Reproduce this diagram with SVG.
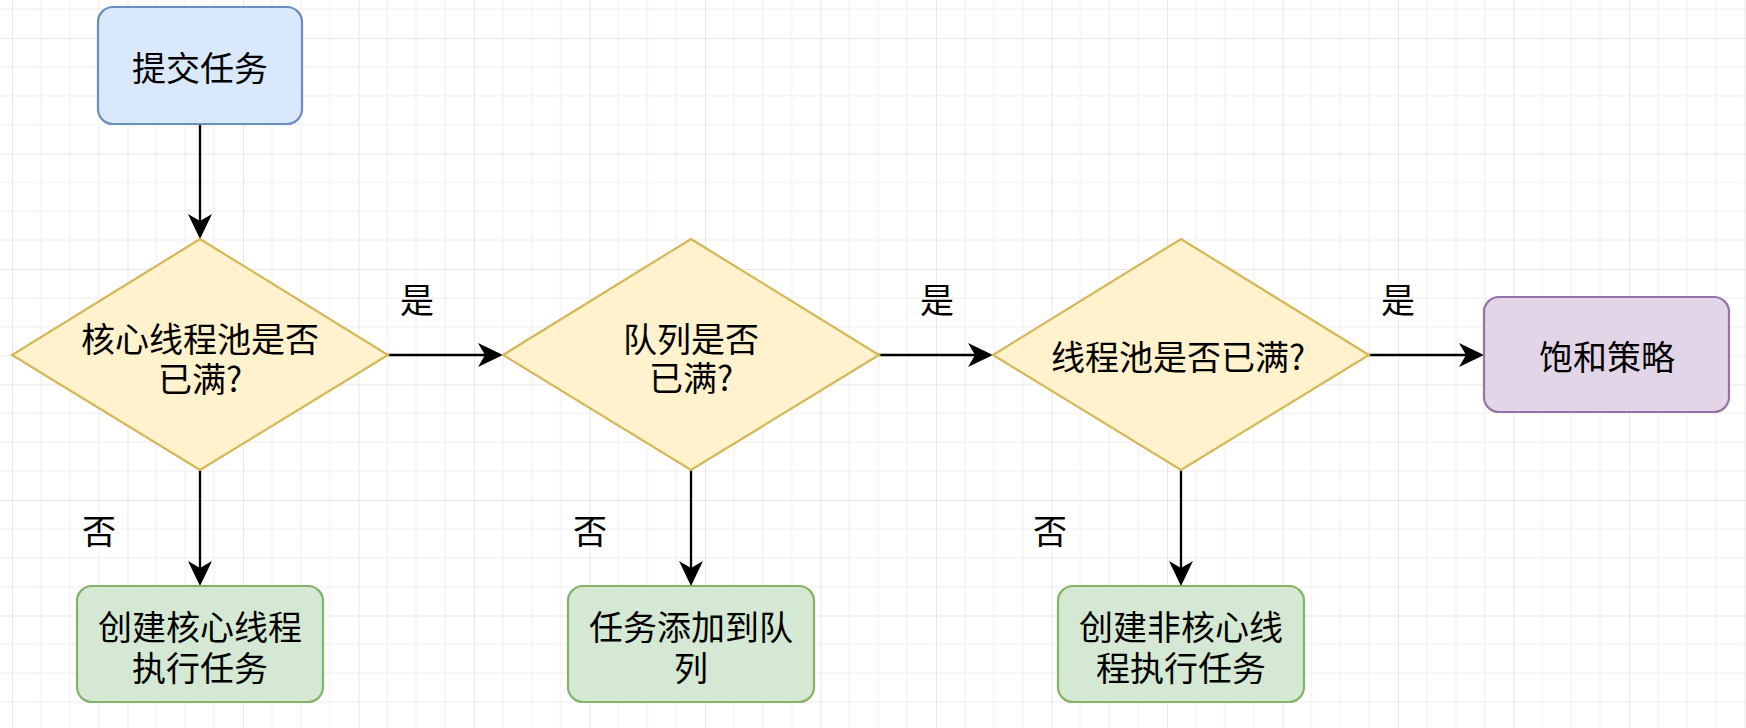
<svg xmlns="http://www.w3.org/2000/svg" width="1746" height="728" viewBox="0 0 1746 728">
<defs>
<pattern id="grid" patternUnits="userSpaceOnUse" x="12" y="38" width="115.5" height="115.5">
<path d="M28.875 0V115.5M57.75 0V115.5M86.625 0V115.5M0 28.875H115.5M0 57.75H115.5M0 86.625H115.5" stroke="#eeeeee" stroke-width="1" fill="none"/>
<path d="M0 0V115.5M0 0H115.5" stroke="#dfdfdf" stroke-width="1.5" fill="none"/>
</pattern>
<marker id="arr" markerUnits="userSpaceOnUse" viewBox="-26 -13 28 26" markerWidth="28" markerHeight="26" refX="-10" refY="0" orient="auto">
<path d="M0 0L-25 -12L-18 0L-25 12Z" fill="#000"/>
</marker>
<style>
text{font-family:"Noto Sans CJK SC","Noto Sans",sans-serif;font-size:34px;fill:#000;text-anchor:middle}
.blue{fill:#dae8fc;stroke:#6c8ebf;stroke-width:2.2}
.dia{fill:#fff2cc;stroke:#d6b656;stroke-width:2.2}
.green{fill:#d5e8d4;stroke:#82b366;stroke-width:2.2}
.purple{fill:#e1d5e7;stroke:#9673a6;stroke-width:2.2}
.edge{stroke:#000;stroke-width:2.3;fill:none;marker-end:url(#arr)}
</style>
</defs>
<rect width="1746" height="728" fill="#ffffff"/>
<rect width="1746" height="728" fill="url(#grid)"/>

<g id="connectors">
<path class="edge" d="M200 124V229"/>
<path class="edge" d="M388 355H493"/>
<path class="edge" d="M879 355H983"/>
<path class="edge" d="M1369 355H1474"/>
<path class="edge" d="M200 470V576"/>
<path class="edge" d="M691 470V576"/>
<path class="edge" d="M1181 470V576"/>
<text x="417" y="313">是</text>
<text x="937" y="313">是</text>
<text x="1398" y="313">是</text>
<text x="99" y="544">否</text>
<text x="590" y="544">否</text>
<text x="1050" y="544">否</text>
</g>

<g id="start">
<rect class="blue" x="98" y="7" width="204" height="117" rx="15"/>
<text x="200" y="81">提交任务</text>
</g>

<g id="core-full">
<path class="dia" d="M200 239L388 355L200 470L12 355Z"/>
<text x="200" y="352">核心线程池是否<tspan x="200" y="392">已满?</tspan></text>
</g>

<g id="queue-full">
<path class="dia" d="M691 239L879 355L691 470L503 355Z"/>
<text x="691" y="352">队列是否<tspan x="691" y="391">已满?</tspan></text>
</g>

<g id="pool-full">
<path class="dia" d="M1181 239L1369 355L1181 470L993 355Z"/>
<text x="1178" y="370">线程池是否已满?</text>
</g>

<g id="reject">
<rect class="purple" x="1484" y="297" width="245" height="115" rx="15"/>
<text x="1607" y="370">饱和策略</text>
</g>

<g id="create-core">
<rect class="green" x="77" y="586" width="246" height="116" rx="15"/>
<text x="200" y="640">创建核心线程<tspan x="200" y="681">执行任务</tspan></text>
</g>

<g id="enqueue">
<rect class="green" x="568" y="586" width="246" height="116" rx="15"/>
<text x="691" y="640">任务添加到队<tspan x="691" y="681">列</tspan></text>
</g>

<g id="create-noncore">
<rect class="green" x="1058" y="586" width="246" height="116" rx="15"/>
<text x="1181" y="640">创建非核心线<tspan x="1181" y="681">程执行任务</tspan></text>
</g>
</svg>
